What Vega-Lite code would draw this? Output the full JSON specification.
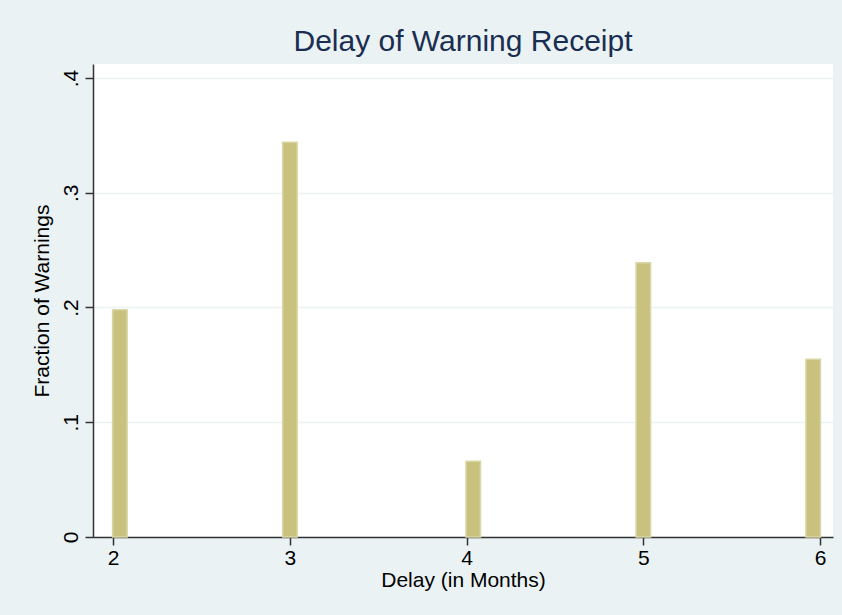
{
  "$schema": "https://vega.github.io/schema/vega-lite/v6.json",
  "autosize": {"type": "none"},
  "width": 740,
  "height": 473,
  "padding": {"left": 93, "top": 64, "right": 9, "bottom": 78},
  "background": "#EAF2F3",
  "config": {
    "view": {"fill": "white", "stroke": null},
    "font": "Liberation Sans"
  },
  "title": {
    "text": "Delay of Warning Receipt",
    "fontSize": 30,
    "fontWeight": "normal",
    "color": "#1A2E52",
    "anchor": "middle",
    "offset": 7
  },
  "data": {
    "values": [
      {"delay": 2, "bin_start": 1.998, "bin_end": 2.080, "fraction": 0.198},
      {"delay": 3, "bin_start": 2.960, "bin_end": 3.042, "fraction": 0.344},
      {"delay": 4, "bin_start": 3.997, "bin_end": 4.079, "fraction": 0.066},
      {"delay": 5, "bin_start": 4.959, "bin_end": 5.041, "fraction": 0.239},
      {"delay": 6, "bin_start": 5.920, "bin_end": 6.002, "fraction": 0.155}
    ]
  },
  "mark": {"type": "bar", "fill": "#C9C27F", "stroke": "#DAD6A6", "strokeWidth": 1.5},
  "encoding": {
    "x": {
      "field": "bin_start",
      "type": "quantitative",
      "scale": {"domain": [1.887, 6.073], "nice": false, "zero": false},
      "axis": {
        "title": "Delay (in Months)",
        "values": [2, 3, 4, 5, 6],
        "format": "d",
        "grid": false,
        "domainColor": "#333333",
        "domainWidth": 1.5,
        "tickColor": "#333333",
        "tickWidth": 1.5,
        "tickSize": 8,
        "labelFontSize": 21,
        "labelColor": "black",
        "labelPadding": 2,
        "titleFontSize": 21,
        "titleFontWeight": "normal",
        "titleColor": "black",
        "titlePadding": 1
      }
    },
    "x2": {"field": "bin_end"},
    "y": {
      "field": "fraction",
      "type": "quantitative",
      "scale": {"domain": [0, 0.4122], "nice": false},
      "axis": {
        "title": "Fraction of Warnings",
        "values": [0, 0.1, 0.2, 0.3, 0.4],
        "labelExpr": "datum.value == 0 ? '0' : replace(format(datum.value, '.1f'), '0.', '.')",
        "labelAngle": -90,
        "labelAlign": "center",
        "labelBaseline": "bottom",
        "grid": true,
        "gridColor": "#EAF2F3",
        "gridWidth": 1.5,
        "domainColor": "#333333",
        "domainWidth": 1.5,
        "tickColor": "#333333",
        "tickWidth": 1.5,
        "tickSize": 8,
        "labelFontSize": 21,
        "labelColor": "black",
        "labelPadding": 4,
        "titleFontSize": 21,
        "titleFontWeight": "normal",
        "titleColor": "black",
        "titlePadding": 8
      }
    },
    "y2": {"datum": 0}
  }
}
